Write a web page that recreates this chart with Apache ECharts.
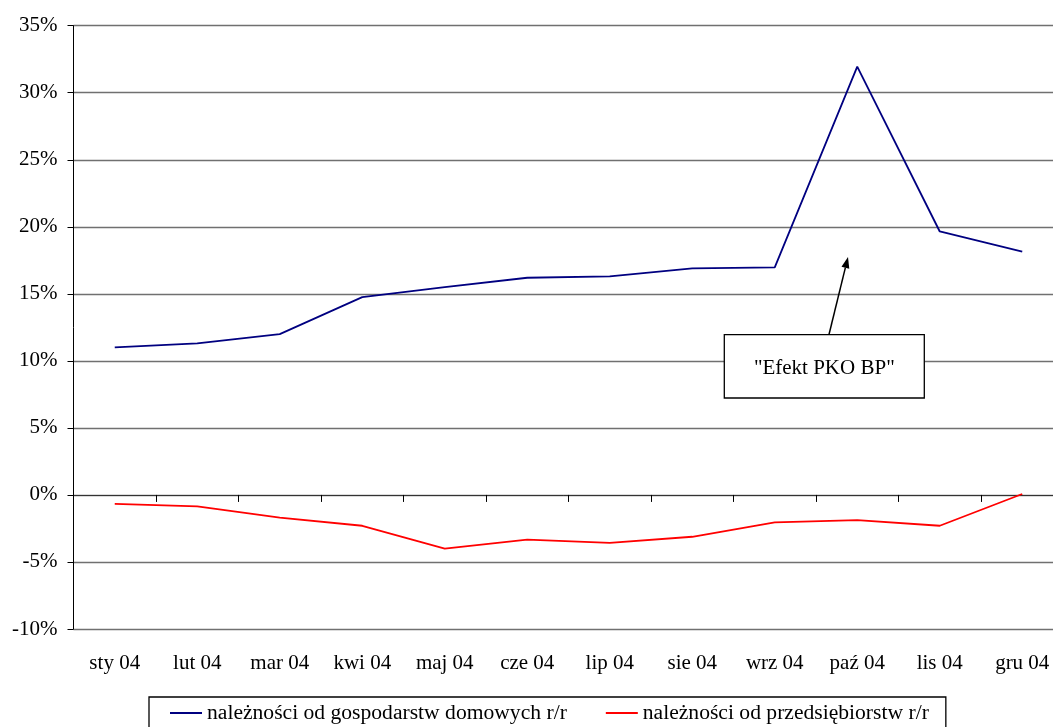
<!DOCTYPE html>
<html>
<head>
<meta charset="utf-8">
<script src="https://cdn.jsdelivr.net/npm/echarts@6/dist/echarts.min.js"></script>
<style>
html,body{margin:0;padding:0;background:#fff;}
#chart{width:1053px;height:727px;}
</style>
</head>
<body>
<div id="chart"></div>
<script>
const categories = ['sty 04','lut 04','mar 04','kwi 04','maj 04','cze 04','lip 04','sie 04','wrz 04','paź 04','lis 04','gru 04'];
const households = [11.0, 11.3, 12.0, 14.75, 15.5, 16.2, 16.3, 16.9, 16.98, 31.95, 19.65, 18.15];
const companies = [-0.67, -0.85, -1.7, -2.3, -4.0, -3.33, -3.58, -3.12, -2.05, -1.88, -2.3, 0.07];
const seriesNames = ['należności od gospodarstw domowych r/r', 'należności od przedsiębiorstw r/r'];
const annotationText = '"Efekt PKO BP"';

const FONT = 'Liberation Serif, Times New Roman, serif';
const chart = echarts.init(document.getElementById('chart'));

// arrow geometry (annotation)
const ax1 = 829, ay1 = 334.5, ax2 = 848, ay2 = 257;
const ang = Math.atan2(ay2 - ay1, ax2 - ax1);
const hl = 11, hw = 4;
const bx = ax2 - hl * Math.cos(ang), by = ay2 - hl * Math.sin(ang);
const px = -Math.sin(ang) * hw, py = Math.cos(ang) * hw;

const lineIcon = 'path://M0 0 H32 V2 H0 Z';

chart.setOption({
  backgroundColor: '#ffffff',
  animation: false,
  textStyle: { fontFamily: FONT },
  grid: { left: 73.5, top: 25.7, width: 990, bottom: 98, containLabel: false, outerBoundsMode: 'none' },
  xAxis: [
    {
      type: 'category', data: categories, boundaryGap: true,
      axisLine: { show: true, onZero: true, lineStyle: { color: '#333', width: 1 } },
      axisTick: { show: true, length: 7, inside: false, lineStyle: { color: '#000' } },
      axisLabel: { show: false },
      splitLine: { show: false }
    },
    {
      type: 'category', data: categories, boundaryGap: true, position: 'bottom',
      axisLine: { show: false, onZero: false },
      axisTick: { show: false },
      axisLabel: { show: true, fontFamily: FONT, fontSize: 21, color: '#000', margin: 24, interval: 0 },
      splitLine: { show: false }
    }
  ],
  yAxis: {
    type: 'value', min: -10, max: 35, interval: 5,
    axisLine: { show: true, lineStyle: { color: '#000', width: 1 } },
    axisTick: { show: true, length: 6, lineStyle: { color: '#000' } },
    axisLabel: { formatter: '{value}%', fontFamily: FONT, fontSize: 21, color: '#000', margin: 16 },
    splitLine: { show: true, lineStyle: { color: '#707070', width: 1.3 } }
  },
  legend: {
    show: true,
    left: 149, top: 697,
    padding: [5, 17, 10, 21],
    borderColor: '#000', borderWidth: 1.3,
    backgroundColor: '#fff',
    itemWidth: 32, itemHeight: 2, itemGap: 39,
    textStyle: { fontFamily: FONT, fontSize: 21.6, color: '#000', lineHeight: 22, padding: [0, 0, 0, 0] },
    data: [
      { name: seriesNames[0], icon: lineIcon },
      { name: seriesNames[1], icon: lineIcon }
    ]
  },
  series: [
    {
      name: seriesNames[0], type: 'line', data: households, xAxisIndex: 0,
      symbol: 'none', lineStyle: { color: '#000080', width: 1.8 }, itemStyle: { color: '#000080' }
    },
    {
      name: seriesNames[1], type: 'line', data: companies, xAxisIndex: 0,
      symbol: 'none', lineStyle: { color: '#ff0000', width: 1.8 }, itemStyle: { color: '#ff0000' }
    }
  ],
  graphic: [
    {
      type: 'rect', shape: { x: 724.3, y: 334.7, width: 200, height: 63.3 },
      style: { fill: '#fff', stroke: '#000', lineWidth: 1.3 }, z: 100
    },
    {
      type: 'text', x: 824.3, y: 368,
      style: { text: annotationText, font: '21px ' + FONT, fill: '#000', align: 'center', verticalAlign: 'middle' }, z: 101
    },
    {
      type: 'line', shape: { x1: ax1, y1: ay1, x2: bx, y2: by },
      style: { stroke: '#000', lineWidth: 1.5 }, z: 100
    },
    {
      type: 'polygon', shape: { points: [[ax2, ay2], [bx + px, by + py], [bx - px, by - py]] },
      style: { fill: '#000' }, z: 100
    }
  ]
});
</script>
</body>
</html>
